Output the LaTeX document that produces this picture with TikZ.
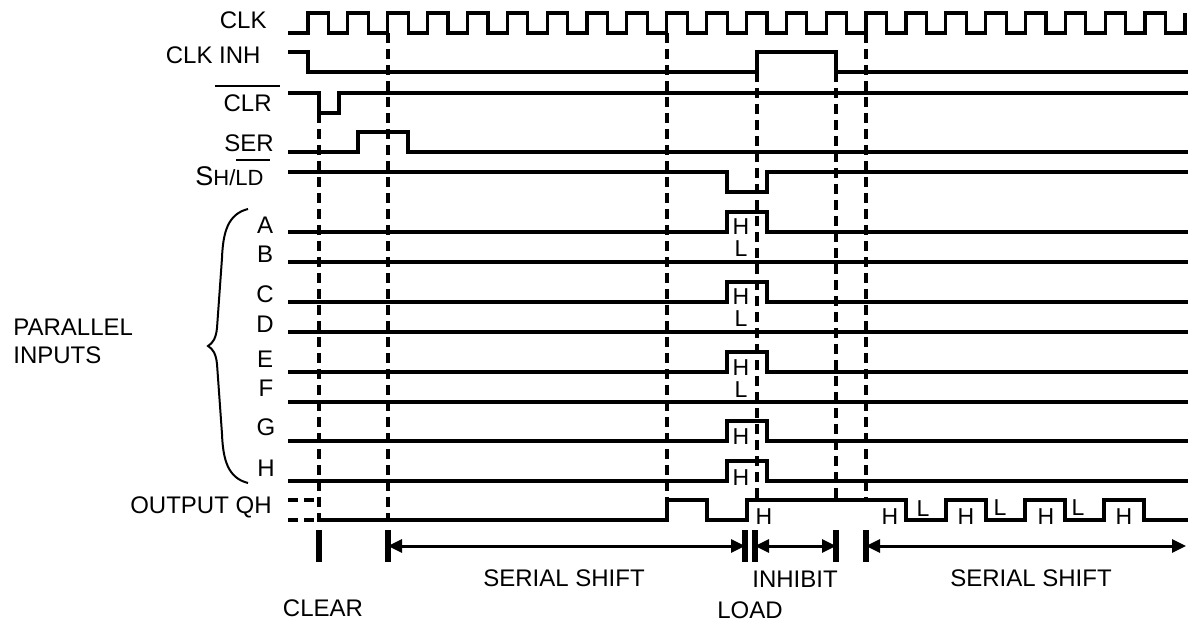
\documentclass[tikz,border=0pt]{standalone}
\usepackage{fontspec}
\setmainfont{Liberation Sans}
\usetikzlibrary{arrows.meta}
\definecolor{WaveClr}{RGB}{0,0,0}

\tikzset{
  wave/.style={line width=1.6pt,line join=miter,color=WaveClr},
  guide/.style={line width=1.6pt,dash pattern=on 5pt off 3pt},
  tickbar/.style={line width=3pt},
  spanarrow/.style={line width=1.5pt,{Triangle[length=7pt,width=6.5pt]}-{Triangle[length=7pt,width=6.5pt]}},
  lbl/.style={font=\fontsize{12}{14}\selectfont,inner sep=0pt},
  lvl/.style={font=\fontsize{11.5}{12}\selectfont,inner sep=0pt}
}

\begin{document}
\begin{tikzpicture}[x=0.5pt,y=-0.5pt]
\useasboundingbox (0,0) rectangle (1192,624);

% signal names
\node[lbl,anchor=east] (clk) at (267,20) {CLK};
\node[lbl,anchor=east] (clkinh) at (261,55) {CLK INH};
\node[lbl,anchor=east] (clr) at (272,103) {CLR};
\node[lbl,anchor=east] (ser) at (274,143) {SER};
\node[lbl,anchor=east] (shld) at (264,176) {{\fontsize{13.5}{14}\selectfont S}{\fontsize{11}{12}\selectfont H/LD}};
\draw[line width=1.4pt] (215,86) -- (280,86);
\draw[line width=1.4pt] (236,160) -- (270,160);

\node[lbl] (inA) at (265,225) {A};
\node[lbl] (inB) at (265,254) {B};
\node[lbl] (inC) at (265,294) {C};
\node[lbl] (inD) at (265,324) {D};
\node[lbl] (inE) at (265,359) {E};
\node[lbl] (inF) at (266,388) {F};
\node[lbl] (inG) at (266,427) {G};
\node[lbl] (inH) at (266,468) {H};
\node[lbl,align=left,anchor=west] (par) at (13,341) {PARALLEL\\INPUTS};
\draw[line width=1pt] (248,209) .. controls (228,214) and (223,232) .. (222,258)
  -- (217,328) .. controls (216,338) and (213,343) .. (208,346)
  .. controls (213,349) and (216,354) .. (217,364)
  -- (222,434) .. controls (223,460) and (228,478) .. (248,483);
\node[lbl,anchor=east] (qh) at (272,507) {OUTPUT QH};

% waveforms
\draw[wave] (288,33) foreach \k in {0,...,21} {
  -- ({308+39.86*\k},33) -- ++(0,-20) -- ++(20.5,0) -- ++(0,20) }
  -- (1185,33) -- (1185,13);
\draw[wave] (288,52) -- (308,52) -- (308,72) -- (757,72) -- (757,52) -- (836,52) -- (836,72) -- (1188,72);
\draw[wave] (288,93) -- (319,93) -- (319,113) -- (339,113) -- (339,93) -- (1188,93);
\draw[wave] (288,152) -- (358,152) -- (358,132) -- (408,132) -- (408,152) -- (1188,152);
\draw[wave] (288,172) -- (727,172) -- (727,192) -- (767,192) -- (767,172) -- (1188,172);

\foreach \y in {232,302,372,441,481}
  \draw[wave] (288,\y) -- (727,\y) -- (727,\y-20) -- (767,\y-20) -- (767,\y) -- (1188,\y);
\foreach \y in {262,332,402}
  \draw[wave] (288,\y) -- (1188,\y);

\draw[guide] (288,500) -- (318,500);
\draw[guide] (288,520) -- (318,520);
\draw[wave] (318,520) -- (667,520) -- (667,500) -- (707,500) -- (707,520) -- (747,520) -- (747,500)
  -- (906,500) -- (906,520) -- (946,520) -- (946,500) -- (986,500) -- (986,520) -- (1025,520)
  -- (1025,500) -- (1065,500) -- (1065,520) -- (1104,520) -- (1104,500) -- (1144,500)
  -- (1144,520) -- (1188,520);

% levels
\node[lvl] (hA) at (741,227) {H};
\node[lvl] (lB) at (741,249) {L};
\node[lvl] (hC) at (741,297) {H};
\node[lvl] (lD) at (741,319) {L};
\node[lvl] (hE) at (741,368) {H};
\node[lvl] (lF) at (741,390) {L};
\node[lvl] (hG) at (741,437) {H};
\node[lvl] (hH) at (741,478) {H};
\node[lvl] (q1) at (764,517) {H};
\node[lvl] (q2) at (890,517) {H};
\node[lvl] (q3) at (923,509) {L};
\node[lvl] (q4) at (966,517) {H};
\node[lvl] (q5) at (1000,508) {L};
\node[lvl] (q6) at (1046,517) {H};
\node[lvl] (q7) at (1078,508) {L};
\node[lvl] (q8) at (1124,517) {H};

% time marks
\foreach \x/\a/\b in {319/113/522,388/33/522,667/33/500,757/72/500,836/72/500,866/33/500}
  \draw[guide] (\x,\a) -- (\x,\b);
\foreach \x in {319,388,745,755,836,866}
  \draw[tickbar] (\x,530) -- (\x,562);

\coordinate (s1) at (388,546);
\coordinate (e1) at (745,546);
\coordinate (s2) at (755,546);
\coordinate (e2) at (836,546);
\coordinate (s3) at (866,546);
\coordinate (e3) at (1186,546);
\draw[spanarrow] (s1) -- (e1);
\draw[spanarrow] (s2) -- (e2);
\draw[spanarrow] (s3) -- (e3);

\node[lbl] (shift1) at (564,578) {SERIAL SHIFT};
\node[lbl] (inhibit) at (795,579) {INHIBIT};
\node[lbl] (shift2) at (1031,578) {SERIAL SHIFT};
\node[lbl] (clear) at (323,608) {CLEAR};
\node[lbl] (load) at (750,610) {LOAD};

\end{tikzpicture}
\end{document}
